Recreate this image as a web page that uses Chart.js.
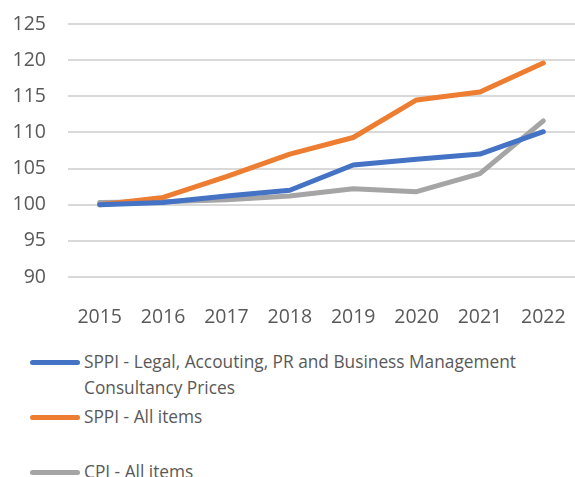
<!DOCTYPE html>
<html>
<head>
<meta charset="utf-8">
<script src="https://cdn.jsdelivr.net/npm/chart.js@4.4.1/dist/chart.umd.min.js"></script>
<style>
  html, body { margin: 0; padding: 0; background: #fff; }
  body { width: 575px; height: 477px; overflow: hidden; position: relative; font-family: "Open Sans", sans-serif; }
  #chartWrap { position: absolute; left: 0; top: 0; width: 575px; height: 330px; }
  #legend { position: absolute; left: 30px; top: 349px; width: 545px; color: #595959; font-size: 17.3px; }
  .item { display: flex; align-items: flex-start; height: 55px; }
  .swatch { width: 50px; height: 5px; border-radius: 3px; margin-top: 11px; margin-right: 4px; flex: none; }
  .txt { line-height: 25.5px; }
</style>
</head>
<body>
<div id="chartWrap"><canvas id="chartData"></canvas></div>
<div id="legend"></div>
<script>
const years = ['2015', '2016', '2017', '2018', '2019', '2020', '2021', '2022'];
const sppiLegal = [100, 100.3, 101.2, 102, 105.5, 106.3, 107, 110.1];
const sppiAll = [100, 101, 103.9, 107, 109.3, 114.5, 115.6, 119.6];
const cpiAll = [100.3, 100.4, 100.7, 101.2, 102.2, 101.8, 104.3, 111.6];

const seriesNames = [
  'SPPI - Legal, Accouting, PR and Business Management Consultancy Prices',
  'SPPI - All items',
  'CPI - All items'
];
const colors = ['#4472C4', '#ED7D31', '#A5A5A5'];

const ctx = document.getElementById('chartData').getContext('2d');
const chart = new Chart(ctx, {
  type: 'line',
  data: {
    labels: years,
    datasets: [sppiLegal, sppiAll, cpiAll].map((vals, i) => ({
      label: seriesNames[i],
      data: vals,
      borderColor: colors[i],
      backgroundColor: colors[i],
      borderWidth: 5,
      pointRadius: 0,
      borderCapStyle: 'round',
      borderJoinStyle: 'round',
      tension: 0,
      fill: false,
    })),
  },
  options: {
    responsive: true,
    maintainAspectRatio: false,
    animation: false,
    layout: { padding: { top: 24, left: 0, right: 0, bottom: 0 } },
    plugins: {
      legend: { display: false },
      tooltip: { enabled: false },
    },
    scales: {
      x: {
        offset: true,
        grid: { display: false },
        border: { display: false },
        ticks: { color: '#595959', font: { family: 'Open Sans', size: 19.5 }, padding: 21, maxRotation: 0 },
        afterFit: s => { s.height = 53; s.paddingLeft = 0; s.paddingRight = 0; },
      },
      y: {
        min: 90,
        max: 125,
        border: { display: false },
        grid: { color: '#D9D9D9', lineWidth: 2, drawTicks: false },
        ticks: { stepSize: 5, color: '#595959', font: { family: 'Open Sans', size: 19.5 }, padding: 22 },
        afterFit: s => { s.width = 68; s.paddingTop = 0; s.paddingBottom = 0; },
      },
    },
  },
});

// legend built from the chart's datasets
const legend = document.getElementById('legend');
chart.data.datasets.forEach(ds => {
  const item = document.createElement('div');
  item.className = 'item';
  item.innerHTML = '<span class="swatch" style="background:' + ds.borderColor + '"></span><span class="txt">' + ds.label + '</span>';
  legend.appendChild(item);
});
</script>
</body>
</html>
